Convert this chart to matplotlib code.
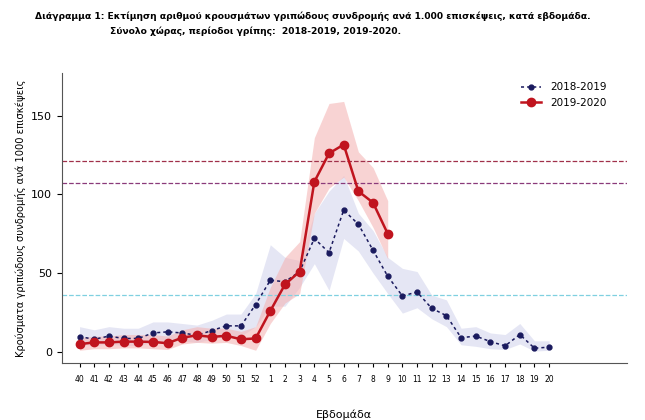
import matplotlib
matplotlib.use("Agg")
import matplotlib.pyplot as plt
import numpy as np

weeks = ["40","41","42","43","44","45","46","47","48","49","50","51","52",
         "1","2","3","4","5","6","7","8","9","10","11","12","13","14","15","16","17","18","19","20"]
s1819 = [9.7,8,10,8.5,8.5,12,12.7,12,10.5,13.5,16.5,16.5,30,45.5,44.5,51,72,63,90,81,64.5,48,35.5,38,27.6,23,9,10,6.5,3.8,11,2.3,3]
s1819_lo = [5,4,5,4,4,6,7,7,6,8,10,10,16,29,29,41,56,39,72,64,50,37,24.6,28,21,16,4.5,3.5,2,1.5,5,0.5,1]
s1819_hi = [16,14,16,15,15,19,19,18,17,20,24,24,37,68,60,58,88,102,112,88,77,60,53,51,36,33,15,16,12,11,18,7,7]
s1920 = [4.9,6,6,6.5,6.5,6.3,5.5,9,10.5,9.5,10.2,8,8.5,26,42.8,51,108,126,131.6,102,94.7,75]
s1920_lo = [1,2,2,2.5,2.5,2,1.5,5,6,5.5,6,4,1,18,31,37,88,104,111,96,79,59]
s1920_hi = [9,10,10,11,11,11,10,14,16,15,15,13,16,41,60,70,136,157.7,159,127,117,96]
thresholds = [121, 107, 36]
thr_colors = ["#a0304a", "#8a3a7a", "#7fd0e0"]

x = np.arange(len(weeks))
x2 = np.arange(len(s1920))

fig = plt.figure(figsize=(6.45, 4.2), dpi=100)
ax = fig.add_axes([0.096, 0.136, 0.876, 0.69])
ax.fill_between(x, s1819_lo, s1819_hi, color="#dfe0f2", alpha=0.8, lw=0)
ax.fill_between(x2, s1920_lo, s1920_hi, color="#f4b0b0", alpha=0.55, lw=0)
for t, c in zip(thresholds, thr_colors):
    ax.axhline(t, color=c, ls="--", lw=0.9)
ax.plot(x, s1819, ls=(0, (2, 2)), color="#1a1a5e", marker="o", ms=3.5, lw=1.1, label="2018-2019")
ax.plot(x2, s1920, ls="-", color="#c0141e", marker="o", ms=6, lw=1.8, label="2019-2020")
ax.set_xlim(-1.2, 37.3)
ax.set_ylim(-7, 177)
ax.set_yticks([0, 50, 100, 150])
ax.set_xticks(x)
ax.set_xticklabels(weeks, fontsize=5.5)
ax.tick_params(axis="y", labelsize=8)
ax.tick_params(axis="x", length=3, pad=6)
for s in ["top", "right"]:
    ax.spines[s].set_visible(False)
ax.spines["left"].set_color("#555555")
ax.spines["bottom"].set_color("#555555")
ax.set_ylabel("Κρούσματα γριπώδους συνδρομής ανά 1000 επισκέψεις", fontsize=7.2)
ax.set_xlabel("Εβδομάδα", fontsize=8, labelpad=18)
ax.legend(loc="upper right", frameon=False, fontsize=7.5, bbox_to_anchor=(0.98, 1.0))
fig.text(0.055, 0.955, "Διάγραμμα 1: Εκτίμηση αριθμού κρουσμάτων γριπώδους συνδρομής ανά 1.000 επισκέψεις, κατά εβδομάδα.",
         fontsize=6.6, fontweight="bold", ha="left")
fig.text(0.17, 0.92, "Σύνολο χώρας, περίοδοι γρίπης:  2018-2019, 2019-2020.",
         fontsize=6.6, fontweight="bold", ha="left")
fig.savefig("out.png", dpi=100)
